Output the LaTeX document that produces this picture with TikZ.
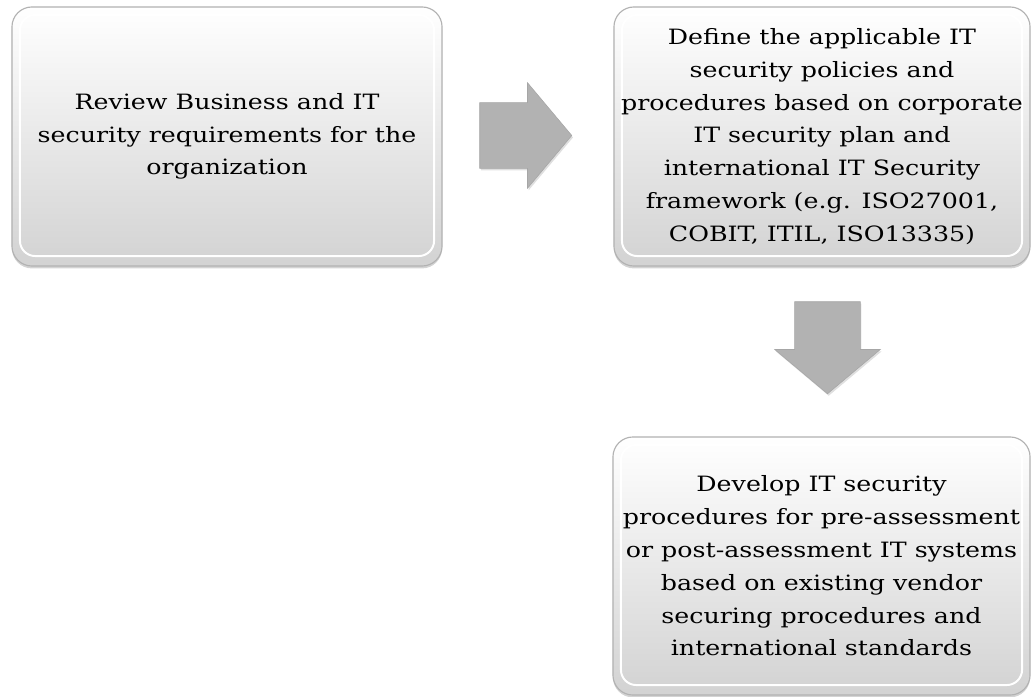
\documentclass[tikz,border=0pt]{standalone}
\usepackage{fontspec}
\setmainfont{DejaVu Serif}[FakeStretch=1.2]
\usepackage{tikz}
\usetikzlibrary{shapes.arrows,shadows}

\begin{document}
\begin{tikzpicture}[
    x=0.025cm, y=-0.025cm,
    stepbox/.style={shape=rectangle, rounded corners=0.5cm, draw=gray!60, line width=0.8pt,
        top color=white, bottom color=gray!35, align=center, text=black,
        font=\fontsize{15}{23.3}\selectfont, inner sep=0pt,
        drop shadow={shadow xshift=0pt, shadow yshift=-0.06cm, opacity=0.35},
        path picture={\draw[white, line width=1.4pt, rounded corners=0.38cm]
            ([shift={(0.2cm,-0.2cm)}]path picture bounding box.north west) rectangle
            ([shift={(-0.2cm,0.25cm)}]path picture bounding box.south east);}},
    blockarrow/.style={single arrow, fill=gray!60, draw=gray!70, line width=0.4pt,
        inner sep=0pt, minimum height=2.3cm, minimum width=2.625cm,
        single arrow head extend=0.5cm, single arrow tip angle=100,
        drop shadow={shadow xshift=0.03cm, shadow yshift=-0.05cm, opacity=0.25}},
]
\useasboundingbox (0,0) rectangle (1035,697);

\node[stepbox, minimum width=10.75cm, minimum height=6.475cm] (review) at (227,136.5)
    {Review Business and IT\\ security requirements for the\\ organization};
\node[stepbox, minimum width=10.4cm, minimum height=6.475cm] (define) at (822,136.5)
    {Define the applicable IT\\ security policies and\\ procedures based on corporate\\
     IT security plan and\\ international IT Security\\ framework (e.g. ISO27001,\\
     COBIT, ITIL, ISO13335)};
\node[stepbox, minimum width=10.425cm, minimum height=6.45cm] (develop) at (821.5,566)
    {Develop IT security\\ procedures for pre-assessment\\ or post-assessment IT systems\\
     based on existing vendor\\ securing procedures and\\ international standards};

\node[blockarrow] (toright) at (512,135.5) {\rule{0pt}{1.625cm}};
\node[blockarrow, rotate=-90] (todown) at (827.5,334) {\rule{0pt}{1.625cm}};
\end{tikzpicture}
\end{document}
